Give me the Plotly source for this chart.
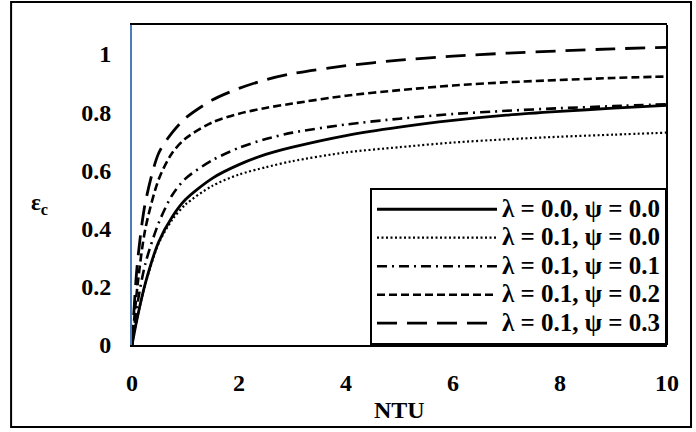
import plotly.graph_objects as go

ntu = [0, 0.1, 0.25, 0.5, 0.75, 1, 1.5, 2, 2.5, 3, 4, 5, 6, 7, 8, 9, 10]

eps_l00_p00 = [0, 0.095, 0.213, 0.355, 0.44, 0.50, 0.573, 0.62, 0.655, 0.68, 0.72, 0.749, 0.772, 0.790, 0.803, 0.814, 0.824]
eps_l01_p00 = [0, 0.095, 0.21, 0.35, 0.43, 0.483, 0.547, 0.586, 0.611, 0.632, 0.662, 0.68, 0.696, 0.707, 0.716, 0.723, 0.730]
eps_l01_p01 = [0, 0.14, 0.28, 0.42, 0.515, 0.572, 0.635, 0.678, 0.708, 0.73, 0.758, 0.778, 0.794, 0.805, 0.814, 0.821, 0.828]
eps_l01_p02 = [0, 0.2, 0.40, 0.57, 0.66, 0.71, 0.765, 0.795, 0.815, 0.83, 0.857, 0.876, 0.892, 0.903, 0.911, 0.918, 0.923]
eps_l01_p03 = [0, 0.28, 0.49, 0.66, 0.73, 0.78, 0.842, 0.882, 0.912, 0.933, 0.960, 0.979, 0.993, 1.003, 1.011, 1.018, 1.023]

series_names = ["λ = 0.0, ψ = 0.0", "λ = 0.1, ψ = 0.0", "λ = 0.1, ψ = 0.1",
                "λ = 0.1, ψ = 0.2", "λ = 0.1, ψ = 0.3"]
series_values = [eps_l00_p00, eps_l01_p00, eps_l01_p01, eps_l01_p02, eps_l01_p03]
dashes = ["solid", "2px,2.5px", "10px,5px,2px,5px", "8px,4px", "20px,10px"]
widths = [2.8, 2.2, 2.6, 2.6, 2.8]

x_ticks = [0, 2, 4, 6, 8, 10]
y_ticks = [0, 0.2, 0.4, 0.6, 0.8, 1]
y_ticktext = ["0", "0.2", "0.4", "0.6", "0.8", "1"]

FONT = "Liberation Serif"

fig = go.Figure()
for name, vals, d, w in zip(series_names, series_values, dashes, widths):
    fig.add_trace(go.Scatter(
        x=ntu, y=vals, mode="lines",
        name='<span style="font-size:25px">' + name + '</span>',
        line=dict(color="black", width=w, dash=d, shape="spline", smoothing=0.8)))

fig.update_layout(
    width=696, height=432,
    margin=dict(l=132, r=29, t=25, b=87),
    paper_bgcolor="white", plot_bgcolor="white",
    font=dict(family=FONT, size=24, color="black", weight="bold"),
    showlegend=True,
    legend=dict(x=1, y=0, xanchor="right", yanchor="bottom",
                bgcolor="white", bordercolor="black", borderwidth=2,
                font=dict(family=FONT, size=19.6, color="black", weight="bold"),
                itemwidth=120, tracegroupgap=0),
    xaxis=dict(range=[0, 10], tickvals=x_ticks, showgrid=False, zeroline=False,
               showline=True, linecolor="black", linewidth=2, mirror=True,
               ticks="", ticklabelstandoff=15,
               tickfont=dict(family=FONT, size=24, weight="bold")),
    yaxis=dict(range=[0, 1.1], tickvals=y_ticks, ticktext=y_ticktext, showgrid=False,
               zeroline=False, showline=True, linecolor="#4A7EBB", linewidth=2,
               ticks="", ticklabelstandoff=14,
               tickfont=dict(family=FONT, size=24, weight="bold")),
    shapes=[
        dict(type="line", xref="x domain", yref="y domain", x0=1, x1=1, y0=0, y1=1,
             line=dict(color="black", width=2)),
        dict(type="rect", xref="paper", yref="paper", x0=-0.226, x1=1.0449,
             y0=-0.256, y1=1.072, line=dict(color="black", width=2)),
    ],
    annotations=[
        dict(text="NTU", xref="paper", yref="paper", x=0.5, y=-0.203, showarrow=False,
             xanchor="center", yanchor="middle",
             font=dict(family=FONT, size=24, weight="bold")),
        dict(text="ε<sub>c</sub>", xref="paper", yref="paper", x=-0.172, y=0.44,
             showarrow=False, xanchor="center", yanchor="middle",
             font=dict(family=FONT, size=23, weight="bold")),
    ],
)

fig.write_html("out.html", config={"displayModeBar": False},
               post_script="document.body.style.margin='0px';")
